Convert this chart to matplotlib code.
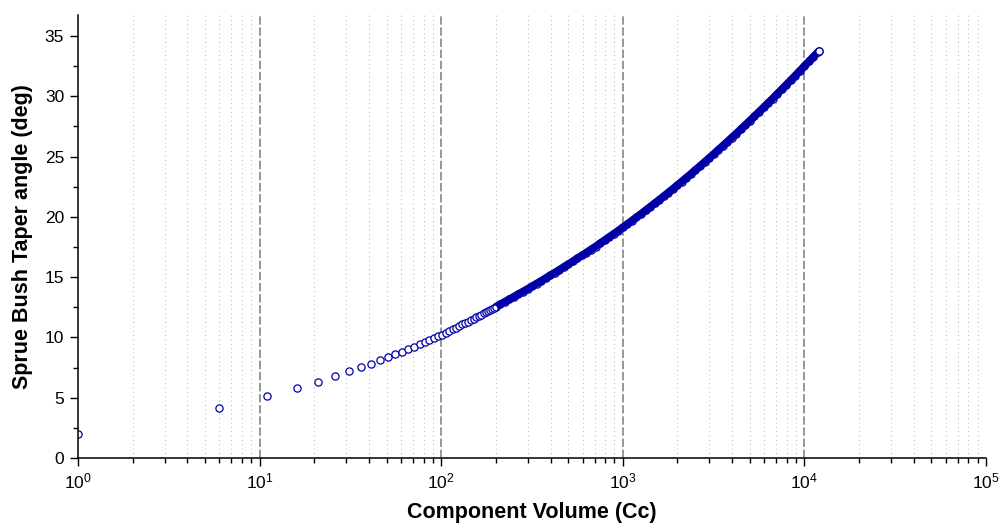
import numpy as np
import matplotlib
matplotlib.use('Agg')
import matplotlib.pyplot as plt
from matplotlib.ticker import MultipleLocator, LogLocator, NullFormatter

plt.rcParams['font.family'] = ['Liberation Sans', 'DejaVu Sans']
plt.rcParams['mathtext.fontset'] = 'custom'
plt.rcParams['mathtext.rm'] = 'Liberation Sans'
plt.rcParams['mathtext.it'] = 'Liberation Sans'
plt.rcParams['lines.scale_dashes'] = False

# sparse part of the scan: every 5 cc, circles are distinct
vol_sparse = [1, 6, 11, 16, 21, 26, 31, 36, 41, 46, 51, 56, 61, 66, 71, 76,
              81, 86, 91, 96, 101, 106, 111, 116, 121, 126, 131, 136, 141,
              146, 151, 156, 161, 166, 171, 176, 181, 186, 191, 196]
angle_sparse = [2.00, 4.16, 5.13, 5.82, 6.34, 6.79, 7.18, 7.51, 7.81, 8.10,
                8.36, 8.60, 8.82, 9.04, 9.23, 9.42, 9.59, 9.76, 9.92, 10.08,
                10.24, 10.39, 10.54, 10.68, 10.82, 10.95, 11.08, 11.20, 11.32,
                11.44, 11.56, 11.67, 11.78, 11.88, 11.99, 12.09, 12.19, 12.28,
                12.38, 12.47]

# dense part: circles overlap into a solid band
vol_dense = [201, 211, 224, 237, 251, 266, 282, 299, 316, 335, 355, 376, 398,
             422, 447, 473, 501, 531, 562, 596, 631, 668, 708, 750, 794, 841,
             891, 944, 1000, 1059, 1122, 1189, 1259, 1334, 1413, 1496, 1585,
             1679, 1778, 1884, 1995, 2113, 2239, 2371, 2512, 2661, 2818, 2985,
             3162, 3350, 3548, 3758, 3981, 4217, 4467, 4732, 5012, 5309, 5623,
             5957, 6310, 6683, 7079, 7499, 7943, 8414, 8913, 9441, 10000,
             10593, 11220, 11885, 12001]
angle_dense = [12.56, 12.74, 12.95, 13.16, 13.37, 13.59, 13.80, 14.02, 14.24,
               14.46, 14.68, 14.91, 15.14, 15.37, 15.60, 15.84, 16.07, 16.31,
               16.55, 16.80, 17.04, 17.29, 17.54, 17.80, 18.06, 18.32, 18.59,
               18.85, 19.13, 19.40, 19.68, 19.96, 20.24, 20.53, 20.82, 21.11,
               21.41, 21.70, 22.01, 22.31, 22.62, 22.93, 23.25, 23.56, 23.89,
               24.21, 24.54, 24.87, 25.20, 25.54, 25.88, 26.22, 26.57, 26.91,
               27.27, 27.62, 27.98, 28.34, 28.71, 29.07, 29.44, 29.81, 30.19,
               30.57, 30.95, 31.33, 31.72, 32.11, 32.50, 32.89, 33.28, 33.67,
               33.73]

blue = '#0000a6'

fig = plt.figure(figsize=(10.01, 5.29), dpi=100)
ax = fig.add_axes([78/1001, 71/529, 908/1001, 443/529])

ax.plot(vol_dense, angle_dense, '-', color=blue, lw=5.6, solid_capstyle='round', zorder=3)
ax.plot(vol_sparse, angle_sparse, 'o', ms=5.2, mfc='white', mec=blue, mew=0.9, zorder=4)
ax.plot(vol_dense, angle_dense, 'o', ms=5.2, mfc='none', mec=blue, mew=0.9, zorder=4)
# last point shows as open circle at the end of the band
ax.plot(vol_dense[-1:], angle_dense[-1:], 'o', ms=5.2, mfc='white', mec=blue, mew=0.9, zorder=5)

ax.set_xscale('log')
ax.set_xlim(1, 1e5)
ax.set_ylim(0, 36.74)

ax.yaxis.set_major_locator(MultipleLocator(5))
ax.yaxis.set_minor_locator(MultipleLocator(2.5))
ax.xaxis.set_major_locator(LogLocator(base=10, numticks=10))
ax.xaxis.set_minor_locator(LogLocator(base=10, subs=np.arange(2, 10), numticks=20))
ax.xaxis.set_minor_formatter(NullFormatter())

ax.grid(which='major', axis='x', color='#7a7a7a', lw=1.1, linestyle=(0, (6, 2)))
ax.grid(which='minor', axis='x', color='#b8b8b8', lw=0.75, linestyle=(0, (0.75, 2.4)))

for s in ['top', 'right']:
    ax.spines[s].set_visible(False)
for s in ['left', 'bottom']:
    ax.spines[s].set_linewidth(1.1)
    ax.spines[s].set_zorder(6)

ax.tick_params(which='major', direction='out', length=6, width=1.0, labelsize=12.5, pad=3.5)
ax.tick_params(which='minor', direction='out', length=3.8, width=1.0)
ax.tick_params(axis='y', which='major', pad=4)

ax.set_xlabel('Component Volume (Cc)', fontsize=15.5, fontweight='bold', labelpad=8)
ax.set_ylabel('Sprue Bush Taper angle (deg)', fontsize=15.5, fontweight='bold', labelpad=8)

# no grid line on the frame edges (1 and 1e5)
fig.canvas.draw()
for t in ax.xaxis.get_major_ticks():
    if t.get_loc() <= 1.01 or t.get_loc() >= 0.99e5:
        t.gridline.set_visible(False)

fig.savefig('out.png', dpi=100)
